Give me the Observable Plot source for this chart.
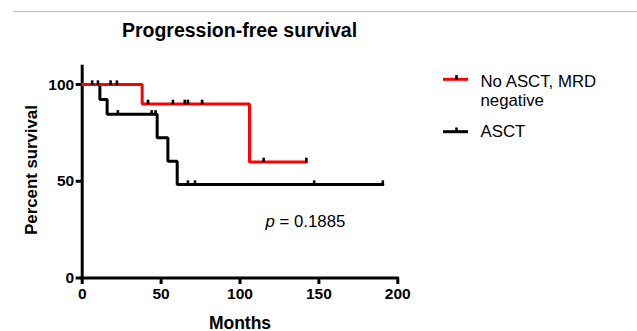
<!DOCTYPE html>
<html>
<head>
<meta charset="utf-8">
<script src="https://cdn.jsdelivr.net/npm/d3@7"></script>
<script src="https://cdn.jsdelivr.net/npm/@observablehq/plot@0.6"></script>
<style>
  html, body { margin: 0; padding: 0; background: #fff; }
  #chart { width: 637px; height: 331px; position: relative; overflow: hidden; }
  svg { font-family: "Liberation Sans", Arial, Helvetica, sans-serif; }
</style>
</head>
<body>
<div id="chart"></div>
<script>
// ---- data ----
const title = "Progression-free survival";
const xLabel = "Months";
const yLabel = "Percent survival";
const xTicks = [0, 50, 100, 150, 200];
const yTicks = [0, 50, 100];
const seriesNames = ["No ASCT, MRD negative", "ASCT"];
const seriesColors = ["#ff0000", "#000000"];

// step curves (time in months, percent surviving after each event)
const noAsctTimes = [0, 38, 106, 142];
const noAsctSurv = [100, 90, 60, 60];
const asctTimes = [0, 11.2, 15.8, 47.5, 54.3, 60.2, 190.5];
const asctSurv = [100, 92.3, 84.6, 72.5, 60.4, 48.3, 48.3];

// censored observations
const noAsctCensorTimes = [6.3, 10, 18, 22, 41.7, 57.5, 65, 67, 76, 115, 142];
const noAsctCensorSurv = [100, 100, 100, 100, 90, 90, 90, 90, 90, 60, 60];
const asctCensorTimes = [22.6, 44, 46.5, 67, 71.5, 147, 190.5];
const asctCensorSurv = [84.6, 84.6, 84.6, 48.3, 48.3, 48.3, 48.3];

const pValue = "0.1885";
const pAnnot = [{x: 116.2, y: 26.3}];

// ---- build tables ----
const noAsct = noAsctTimes.map((t, i) => ({t, s: noAsctSurv[i]}));
const asct = asctTimes.map((t, i) => ({t, s: asctSurv[i]}));
const censors = [
  ...noAsctCensorTimes.map((t, i) => ({t, s: noAsctCensorSurv[i]})),
  ...asctCensorTimes.map((t, i) => ({t, s: asctCensorSurv[i]}))
];

const censorSymbol = {
  draw(ctx) { ctx.moveTo(0, 0.5); ctx.lineTo(0, -4.2); }
};

const font = "Liberation Sans, Arial, Helvetica, sans-serif";

const plot = Plot.plot({
  width: 637,
  height: 331,
  marginLeft: 81.7,
  marginRight: 239.7,
  marginTop: 64.7,
  marginBottom: 53.5,
  style: {fontFamily: font, color: "#000", background: "#fff"},
  x: {domain: [0, 200]},
  y: {domain: [0, 110]},
  marks: [
    Plot.axisX({ticks: xTicks, tickSize: 6.5, tickPadding: 3, fontSize: 15.5, fontWeight: "bold", strokeWidth: 3, label: null}),
    Plot.axisY({ticks: yTicks, tickSize: 6, tickPadding: 2, fontSize: 15.5, fontWeight: "bold", strokeWidth: 3, label: null}),
    Plot.ruleY([0], {stroke: "#000", strokeWidth: 3, strokeLinecap: "square"}),
    Plot.ruleX([0], {stroke: "#000", strokeWidth: 3}),
    Plot.line(asct, {x: "t", y: "s", curve: "step-after", stroke: seriesColors[1], strokeWidth: 3, strokeLinejoin: "miter"}),
    Plot.line(noAsct, {x: "t", y: "s", curve: "step-after", stroke: seriesColors[0], strokeWidth: 3, strokeLinejoin: "miter"}),
    Plot.dot(censors, {x: "t", y: "s", symbol: censorSymbol, stroke: "#000", strokeWidth: 2.6, fill: "none", r: 3}),
    Plot.text(pAnnot, {x: "x", y: "y", text: () => "p", fontStyle: "italic", fontSize: 16.8, textAnchor: "start", lineAnchor: "bottom", fill: "#000"}),
    Plot.text(pAnnot, {x: "x", y: "y", text: () => "= " + pValue, dx: 14, fontSize: 16.8, textAnchor: "start", lineAnchor: "bottom", fill: "#000"}),
    Plot.text([xLabel], {frameAnchor: "bottom", text: d => d, dy: 50.5, lineAnchor: "bottom", fontSize: 17.5, fontWeight: "bold", fill: "#000"})
  ]
});

document.getElementById("chart").appendChild(plot);

// ---- decorations: top rule, title, y label, legend ----
const svg = d3.select(plot);
svg.append("line")
  .attr("x1", 13).attr("x2", 637).attr("y1", 11.7).attr("y2", 11.7)
  .attr("stroke", "#c8c8c8").attr("stroke-width", 1.2);
svg.append("text")
  .attr("x", 239.5).attr("y", 37.3)
  .attr("text-anchor", "middle")
  .attr("font-size", 19.5).attr("font-weight", "bold").attr("fill", "#000")
  .text(title);
svg.append("text")
  .attr("transform", "translate(36.7,170) rotate(-90)")
  .attr("text-anchor", "middle")
  .attr("font-size", 16.8).attr("font-weight", "bold").attr("fill", "#000")
  .text(yLabel);

const legendRows = [
  {lineY: 79.3, lines: ["No ASCT, MRD", "negative"], baseY: 86.7, color: seriesColors[0]},
  {lineY: 131.7, lines: ["ASCT"], baseY: 137.3, color: seriesColors[1]}
];
legendRows.forEach(r => {
  const g = svg.append("g");
  g.append("line").attr("x1", 443).attr("x2", 468).attr("y1", r.lineY).attr("y2", r.lineY)
    .attr("stroke", r.color).attr("stroke-width", 3);
  g.append("line").attr("x1", 456.5).attr("x2", 456.5).attr("y1", r.lineY + 0.5).attr("y2", r.lineY - 4.2)
    .attr("stroke", "#000").attr("stroke-width", 2.6);
  const t = g.append("text").attr("x", 480.5).attr("y", r.baseY)
    .attr("text-anchor", "start")
    .attr("font-size", 16.8).attr("fill", "#000");
  r.lines.forEach((ln, i) => {
    t.append("tspan").attr("x", 480.5).attr("dy", i === 0 ? 0 : 19.5).text(ln);
  });
});
</script>
</body>
</html>
